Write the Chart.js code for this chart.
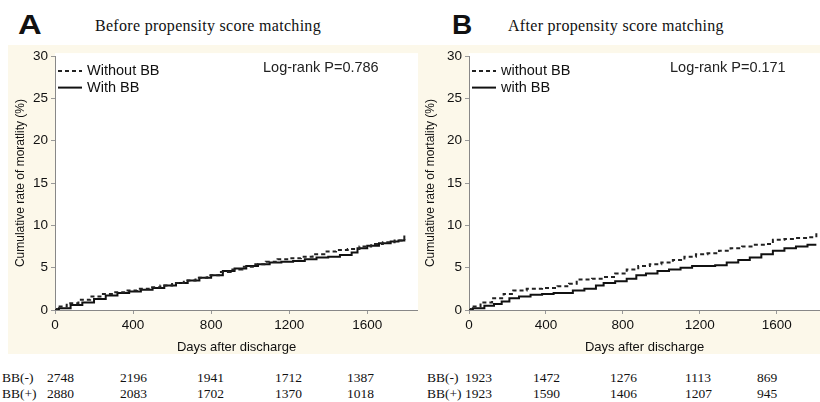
<!DOCTYPE html>
<html><head><meta charset="utf-8">
<script src="https://cdn.jsdelivr.net/npm/chart.js@4"></script>
<style>
body{margin:0;width:820px;height:402px;background:#fff;position:relative;overflow:hidden;font-family:"Liberation Sans",Arial,sans-serif;color:#111;}
#band{position:absolute;left:8px;top:45px;width:812px;height:309px;background:#fcf8ea;}
.cw{position:absolute;top:45px;height:310px;}
.cw canvas{display:block;}
.lab{position:absolute;font-weight:bold;font-size:28px;line-height:1;transform-origin:0 0;}
.ttl{position:absolute;font-family:"Liberation Serif",serif;font-size:16px;line-height:1;letter-spacing:0.3px;}
.lr{position:absolute;font-size:14.5px;line-height:1;color:#222;}
.risk{position:absolute;font-family:"Liberation Serif",serif;font-size:13.5px;line-height:1;white-space:nowrap;}
</style></head><body>
<div id="band"></div>
<div class="lab" style="left:18px;top:11px;transform:scaleX(1.17)">A</div>
<div class="ttl" style="left:95px;top:18px">Before propensity score matching</div>
<div class="lab" style="left:452px;top:11px">B</div>
<div class="ttl" style="left:508px;top:18px">After propensity score matching</div>
<div class="cw" style="left:8px;width:410px"><canvas id="cA" width="410" height="310"></canvas></div>
<div class="cw" style="left:418px;width:402px"><canvas id="cB" width="402" height="310"></canvas></div>
<div class="lr" style="left:263px;top:60px">Log-rank P=0.786</div>
<div class="lr" style="left:670px;top:60px">Log-rank P=0.171</div>
<div id="risk"></div>
<script>
// ---- data ----
const daysA_without = [0,10,60,120,180,240,300,360,420,480,540,600,660,720,780,840,900,960,1020,1080,1140,1200,1260,1320,1380,1440,1500,1560,1620,1680,1740,1785,1790];
const valsA_without = [0,0.4,0.8,1.2,1.6,1.9,2.1,2.3,2.5,2.7,2.9,3.2,3.5,3.8,4.1,4.5,4.8,5.1,5.4,5.7,6.0,6.1,6.3,6.6,6.9,7.1,7.2,7.5,7.8,8.0,8.2,8.4,8.8];
const daysA_with = [0,20,80,140,200,260,320,380,440,500,560,620,680,740,800,860,920,980,1040,1100,1160,1220,1280,1340,1400,1460,1520,1550,1600,1660,1720,1760,1790];
const valsA_with = [0,0.2,0.6,0.9,1.3,1.7,2.0,2.2,2.4,2.6,2.9,3.2,3.5,3.8,4.1,4.6,4.9,5.2,5.4,5.6,5.7,5.8,6.0,6.2,6.3,6.5,6.8,7.3,7.6,7.9,8.1,8.2,8.4];
const daysB_without = [0,10,60,120,180,230,300,380,460,520,560,640,700,760,820,880,940,1000,1060,1120,1180,1240,1300,1360,1420,1480,1540,1580,1640,1700,1760,1800,1806];
const valsB_without = [0,0.4,0.9,1.4,1.9,2.3,2.5,2.6,2.8,3.1,3.6,3.7,3.9,4.3,4.8,5.2,5.4,5.6,5.9,6.3,6.6,6.7,7.0,7.3,7.5,7.7,7.8,8.3,8.4,8.5,8.6,8.7,9.3];
const daysB_with = [0,20,80,130,170,210,260,320,380,440,540,600,660,700,760,820,870,920,980,1040,1100,1160,1280,1340,1400,1460,1520,1580,1640,1700,1760,1806];
const valsB_with = [0,0.2,0.5,0.7,1.0,1.4,1.6,1.8,1.9,2.0,2.3,2.5,2.9,3.2,3.4,3.7,4.1,4.3,4.6,4.8,5.0,5.2,5.3,5.6,5.9,6.2,6.6,7.0,7.3,7.5,7.7,7.7];
const yTicks = [0,5,10,15,20,25,30];
const xTicks = [0,400,800,1200,1600];
const labelsA = ['Without BB','With BB'];
const labelsB = ['without BB','with BB'];
const riskRowLabels = ['BB(-)','BB(+)'];
const riskA_minus = [2748,2196,1941,1712,1387];
const riskA_plus  = [2880,2083,1702,1370,1018];
const riskB_minus = [1923,1472,1276,1113,869];
const riskB_plus  = [1923,1590,1406,1207,945];

// ---- layout ----
Chart.defaults.font.family = '"Liberation Sans", Arial, sans-serif';
Chart.defaults.color = '#111';

const whiteArea = {
  id:'whiteArea',
  beforeDraw(chart){
    const a=chart.chartArea, c=chart.ctx;
    c.save(); c.fillStyle='#fff'; c.fillRect(a.left, a.top-3, a.right-a.left, a.bottom-a.top+3); c.restore();
  }
};
const insideLegend = {
  id:'insideLegend',
  afterDatasetsDraw(chart, args, o){
    const c=chart.ctx, a=chart.chartArea;
    c.save();
    c.font='14.5px "Liberation Sans", Arial, sans-serif';
    c.textBaseline='middle';
    chart.data.datasets.forEach((ds,i)=>{
      const y=a.top+o.top+i*o.row, x=a.left+o.left;
      c.beginPath(); c.setLineDash(ds.borderDash||[]); c.lineWidth=ds.borderWidth; c.strokeStyle=ds.borderColor;
      c.moveTo(x,y); c.lineTo(x+o.len,y); c.stroke();
      c.setLineDash([]); c.fillStyle='#111'; c.fillText(ds.label, x+o.len+5, y);
    });
    c.restore();
  }
};

function pts(days, vals){ return days.map((d,i)=>({x:d,y:vals[i]})); }

function makeChart(id, labels, dW, vW, dS, vS, xMax, yTitle, yWidth){
  const axisGrid = {drawOnChartArea:false, drawTicks:true, tickLength:4, color:'#999'};
  return new Chart(document.getElementById(id), {
    type:'line',
    data:{datasets:[
      {label:labels[0], data:pts(dW,vW), borderColor:'#222', borderWidth:2, borderDash:[4,3], stepped:true, pointRadius:0, fill:false},
      {label:labels[1], data:pts(dS,vS), borderColor:'#111', borderWidth:2, stepped:true, pointRadius:0, fill:false}
    ]},
    options:{
      responsive:false, animation:false, devicePixelRatio:1,
      layout:{padding:{top:11,right:0,left:0,bottom:0}},
      plugins:{legend:{display:false}, tooltip:{enabled:false},
        insideLegend:{left:3, top:15, row:16.5, len:24}},
      scales:{
        x:{type:'linear', min:0, max:xMax,
          afterBuildTicks:s=>{s.ticks=xTicks.map(v=>({value:v}));},
          ticks:{color:'#111', font:{size:13.5}, padding:3, maxRotation:0, autoSkip:false, callback:v=>String(v)},
          grid:axisGrid, border:{color:'#888', width:1},
          title:{display:true, text:'Days after discharge', color:'#111', font:{size:13}, padding:{top:1,bottom:0}},
          afterFit:s=>{s.height=45;}},
        y:{min:0, max:30,
          afterBuildTicks:s=>{s.ticks=yTicks.map(v=>({value:v}));},
          ticks:{color:'#111', font:{size:13.5}, padding:3},
          grid:axisGrid, border:{color:'#888', width:1},
          title:{display:true, text:yTitle, color:'#111', font:{size:12}, padding:{top:5,bottom:0}},
          afterFit:s=>{s.width=yWidth;}}
      }
    },
    plugins:[whiteArea, insideLegend]
  });
}

makeChart('cA', labelsA, daysA_without, valsA_without, daysA_with, valsA_with, 1860, 'Cumulative rate of moratlity (%)', 47);
makeChart('cB', labelsB, daysB_without, valsB_without, daysB_with, valsB_with, 1825, 'Cumulative rate of mortality (%)', 51);

// number at risk table
const riskHost = document.getElementById('risk');
function riskRow(label, labelX, vals, cols, top){
  const l=document.createElement('div'); l.className='risk'; l.style.left=labelX+'px'; l.style.top=top+'px'; l.textContent=label; riskHost.appendChild(l);
  vals.forEach((v,i)=>{const d=document.createElement('div'); d.className='risk'; d.style.left=cols[i]+'px'; d.style.top=top+'px'; d.textContent=String(v); riskHost.appendChild(d);});
}
const colsA=[47,120,197,275,347], colsB=[465,533,610,685,757];
riskRow(riskRowLabels[0], 2, riskA_minus, colsA, 371);
riskRow(riskRowLabels[1], 2, riskA_plus, colsA, 387);
riskRow(riskRowLabels[0], 427, riskB_minus, colsB, 371);
riskRow(riskRowLabels[1], 427, riskB_plus, colsB, 387);
</script>
</body></html>
